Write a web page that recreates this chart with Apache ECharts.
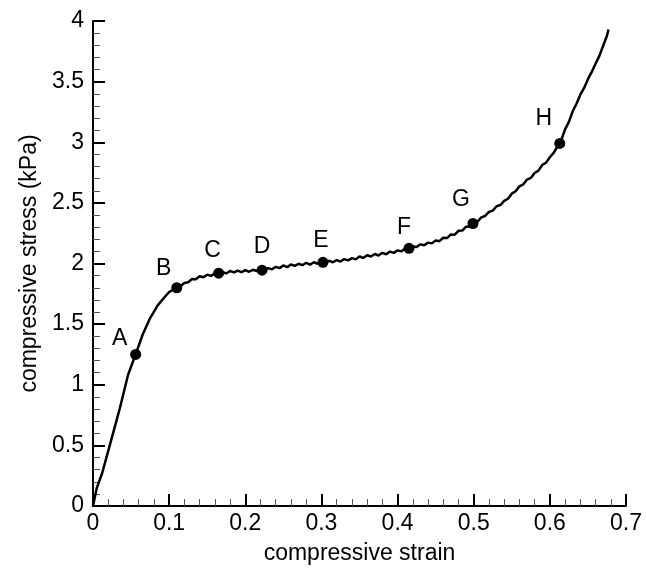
<!DOCTYPE html>
<html><head><meta charset="utf-8">
<script src="https://cdn.jsdelivr.net/npm/echarts@6/dist/echarts.min.js"></script>
<style>html,body{margin:0;padding:0;background:#fff}#c{width:646px;height:570px}</style>
</head><body><div id="c"></div>
<script>
const strain = [0,0.005,0.012,0.022,0.035,0.046,0.056,0.065,0.075,0.085,0.095,
0.100,0.105,0.110,0.115,0.120,0.125,0.130,0.135,0.140,0.145,0.150,0.155,0.160,0.165,0.170,0.175,0.180,0.185,0.190,0.195,
0.200,0.205,0.210,0.215,0.220,0.225,0.230,0.235,0.240,0.245,0.250,0.255,0.260,0.265,0.270,0.275,0.280,0.285,0.290,0.295,
0.300,0.305,0.310,0.315,0.320,0.325,0.330,0.335,0.340,0.345,0.350,0.355,0.360,0.365,0.370,0.375,0.380,0.385,0.390,0.395,
0.400,0.405,0.410,0.415,0.420,0.425,0.430,0.435,0.440,0.445,0.450,0.455,0.460,0.465,0.470,0.475,0.480,0.485,0.490,0.495,
0.500,0.505,0.510,0.515,0.520,0.525,0.530,0.535,0.540,0.545,0.550,0.555,0.560,0.565,0.570,0.575,0.580,0.585,0.590,0.595,
0.600,0.605,0.610,0.613,0.615,0.620,0.625,0.630,0.635,0.640,0.645,0.650,0.655,0.660,0.665,0.670,0.675,0.677];
const stress = [0,0.15,0.27,0.50,0.80,1.08,1.25,1.41,1.55,1.655,1.73,
1.765,1.782,1.805,1.812,1.840,1.846,1.872,1.870,1.895,1.886,1.908,1.898,1.918,1.915,1.930,1.918,1.938,1.927,1.942,1.928,
1.946,1.932,1.948,1.938,1.952,1.944,1.962,1.952,1.972,1.962,1.984,1.970,1.992,1.980,1.998,1.986,2.006,1.990,2.010,1.998,
2.018,2.004,2.022,2.010,2.028,2.016,2.036,2.026,2.044,2.034,2.058,2.046,2.068,2.058,2.078,2.066,2.088,2.076,2.098,2.088,
2.108,2.100,2.124,2.120,2.140,2.136,2.158,2.150,2.172,2.166,2.190,2.184,2.212,2.210,2.240,2.238,2.270,2.272,2.304,2.306,
2.336,2.346,2.380,2.392,2.426,2.436,2.472,2.482,2.516,2.534,2.576,2.596,2.636,2.652,2.692,2.706,2.746,2.766,2.812,2.832,
2.876,2.912,2.966,2.99,3.018,3.106,3.168,3.256,3.318,3.392,3.448,3.520,3.580,3.648,3.712,3.796,3.878,3.93];
const pointNames = ['A','B','C','D','E','F','G','H'];
const pointStrain = [0.056,0.110,0.165,0.222,0.302,0.415,0.499,0.613];
const pointStress = [1.25,1.80,1.92,1.945,2.01,2.125,2.33,2.99];
const labelOffsets = [[-16,-16],[-13,-19],[-6,-23],[0,-24],[-2,-22],[-5,-21],[-12,-24],[-16,-25]];
const xTicks = [0,0.1,0.2,0.3,0.4,0.5,0.6,0.7];
const yTicks = [0,0.5,1,1.5,2,2.5,3,3.5,4];

const chart = echarts.init(document.getElementById('c'), null, {renderer:'canvas'});
const font = 'Liberation Sans, Arial, sans-serif';
const axisCommon = {
  axisLine:{show:true, onZero:false, lineStyle:{color:'#000', width:2}},
  axisTick:{show:true, inside:true, length:12, lineStyle:{color:'#000', width:2}},
  minorTick:{show:true, splitNumber:5, length:7, lineStyle:{color:'#555', width:1}},
  splitLine:{show:false},
  axisLabel:{color:'#000', fontSize:23, fontFamily:font},
  nameTextStyle:{color:'#000', fontSize:23, fontFamily:font}
};
chart.setOption({
  animation:false,
  backgroundColor:'#fff',
  grid:{left:93, right:20, top:21, bottom:64, containLabel:false},
  xAxis:Object.assign({}, axisCommon, {
    type:'value', min:0, max:0.7, interval:0.1,
    name:'compressive strain', nameLocation:'middle', nameGap:36,
    axisLabel:Object.assign({}, axisCommon.axisLabel, {margin:6,
      formatter:v=>{const t=xTicks.find(x=>Math.abs(x-v)<1e-9); return t===undefined?'':String(t);}})
  }),
  yAxis:Object.assign({}, axisCommon, {
    type:'value', min:0, max:4, interval:0.5,
    name:'compressive stress (kPa)', nameLocation:'middle', nameGap:51,
    axisLabel:Object.assign({}, axisCommon.axisLabel, {margin:9,
      formatter:v=>{const t=yTicks.find(x=>Math.abs(x-v)<1e-9); return t===undefined?'':String(t);}})
  }),
  series:[
    {type:'line', data:strain.map((x,i)=>[x,stress[i]]), showSymbol:false, symbol:'none',
     lineStyle:{color:'#000', width:2.5}, z:2},
    {type:'scatter', data:pointNames.map((n,i)=>({name:n, value:[pointStrain[i],pointStress[i]],
        label:{offset:labelOffsets[i]}})),
     symbol:'circle', symbolSize:11, itemStyle:{color:'#000', opacity:1}, z:3,
     label:{show:true, position:'inside', formatter:p=>p.name, color:'#000', fontSize:23, fontFamily:font}}
  ]
});
</script></body></html>
